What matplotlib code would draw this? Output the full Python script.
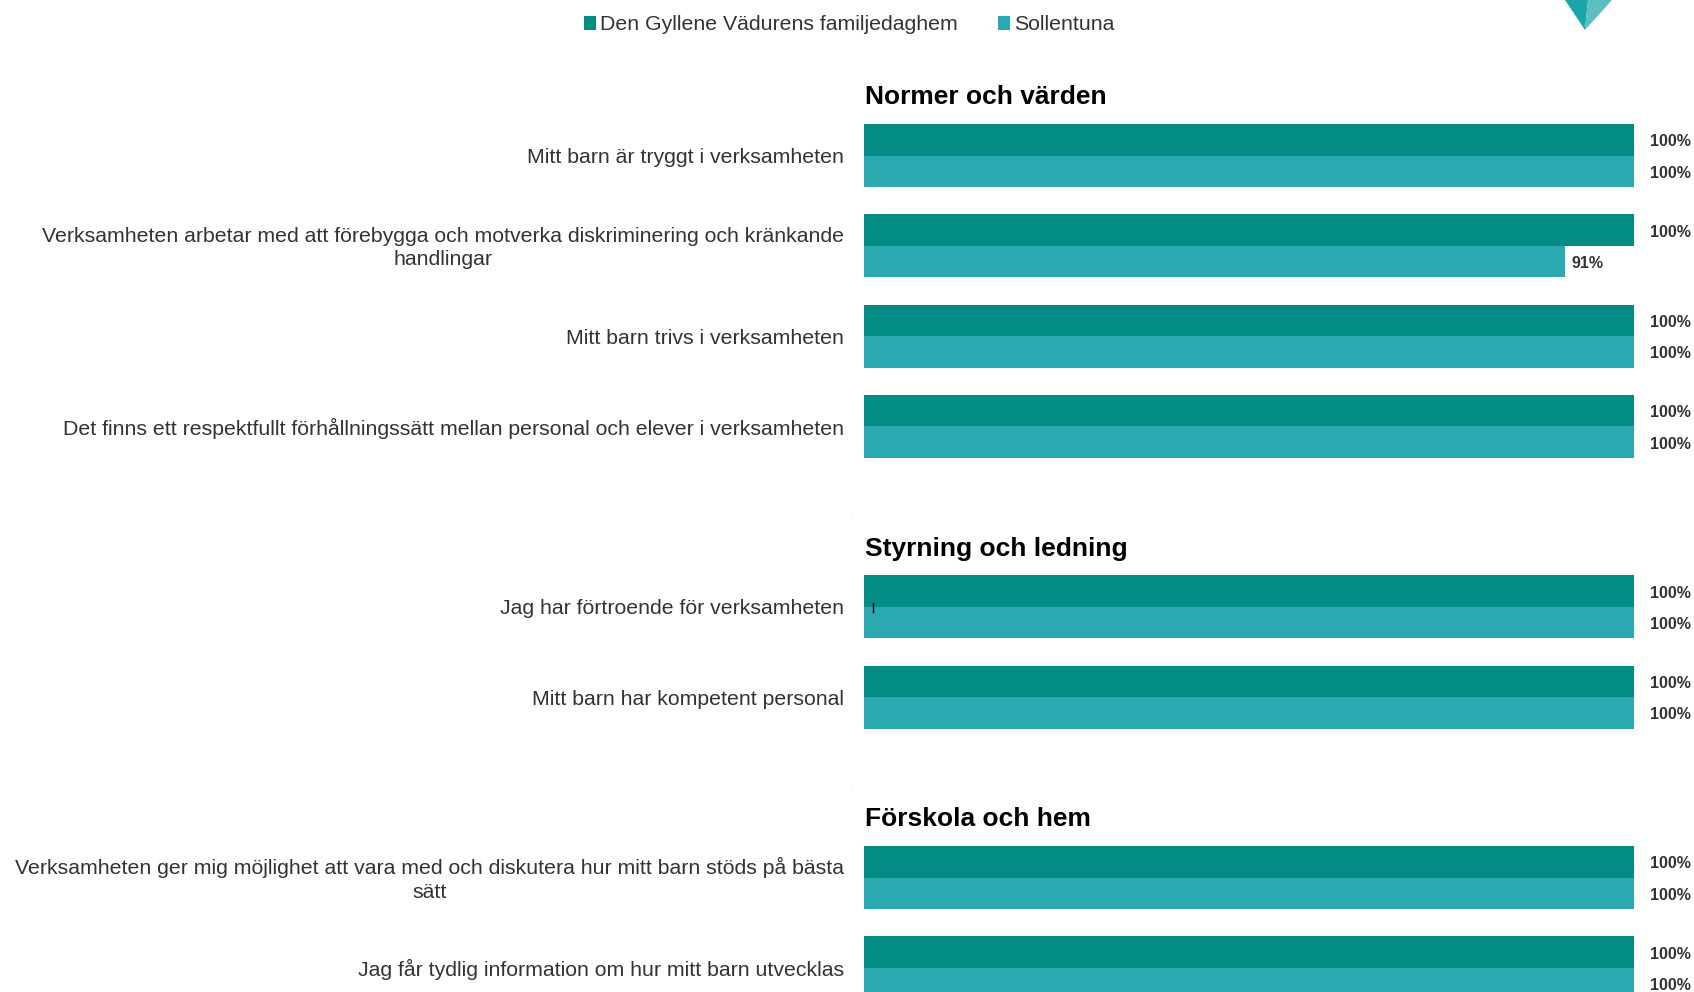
import matplotlib
matplotlib.use("Agg")
import matplotlib.pyplot as plt
from matplotlib.patches import Polygon

plt.rcParams['font.family'] = ['Liberation Sans', 'DejaVu Sans']

# ---- data ----
series_names = ["Den Gyllene Vädurens familjedaghem", "Sollentuna"]
group_titles = ["Normer och värden", "Styrning och ledning", "Förskola och hem"]
group_questions = [
    ["Mitt barn är tryggt i verksamheten",
     "Verksamheten arbetar med att förebygga och motverka diskriminering och kränkande\nhandlingar",
     "Mitt barn trivs i verksamheten",
     "Det finns ett respektfullt förhållningssätt mellan personal och elever i verksamheten"],
    ["Jag har förtroende för verksamheten",
     "Mitt barn har kompetent personal"],
    ["Verksamheten ger mig möjlighet att vara med och diskutera hur mitt barn stöds på bästa\nsätt",
     "Jag får tydlig information om hur mitt barn utvecklas"],
]
values_unit = [[100, 100, 100, 100], [100, 100], [100, 100]]
values_kommun = [[100, 91, 100, 100], [100, 100], [100, 100]]

colors = ["#038C85", "#2AA9B0"]
W, H = 1694, 992

fig = plt.figure(figsize=(W / 100, H / 100), dpi=100)
ax = fig.add_axes([864 / W, 0, 770 / W, 1])
ax.set_xlim(0, 100)
step = 90.25
ax.set_ylim((H - 155.5) / step, -155.5 / step)
ax.axis('off')

bh = 31.5 / step
dy = 2.2 / step  # small text shift downward
slot = 0
handles = None
for g, title in enumerate(group_titles):
    qs = group_questions[g]
    ax.text(0.13, slot - 0.665 + 2.0 / step, title, ha='left', va='center',
            fontsize=19, fontweight='bold', color='black')
    for i, q in enumerate(qs):
        y = slot + i
        b1 = ax.barh(y - bh / 2, values_unit[g][i], height=bh, color=colors[0],
                     label=series_names[0])
        b2 = ax.barh(y + bh / 2, values_kommun[g][i], height=bh, color=colors[1],
                     label=series_names[1])
        if handles is None:
            handles = [b1, b2]
        for yy, v in ((y - bh / 2, values_unit[g][i]), (y + bh / 2, values_kommun[g][i])):
            off = 16 if v >= 100 else 7
            ax.annotate(f"{v}%", xy=(v, yy + dy), xytext=(off, 0), textcoords='offset pixels',
                        ha='left', va='center', fontsize=11.5, fontweight='bold',
                        color='#333333')
        ax.text(-2.6, y + dy, q, ha='right', va='center', multialignment='center',
                fontsize=15.3, color='#333333', linespacing=1.32)
    slot += len(qs) + 1

leg = fig.legend(handles=handles, labels=series_names, loc='center',
                 bbox_to_anchor=(849.5 / W, 1 - 25 / H), bbox_transform=fig.transFigure,
                 ncol=2, frameon=False, fontsize=15.3, handlelength=0.55, handleheight=0.6,
                 handletextpad=0.2, columnspacing=1.9)
for t in leg.get_texts():
    t.set_color('#333333')

# decorative logo fragment (top right) in pixel coords
def px(x, y):
    return (x / W, 1 - y / H)
fig.patches.append(Polygon([px(1565, 0), px(1588, 0), px(1585, 30)], closed=True,
                           transform=fig.transFigure, color="#1AA6A9", lw=0))
fig.patches.append(Polygon([px(1588, 0), px(1612, 0), px(1585, 30)], closed=True,
                           transform=fig.transFigure, color="#5CBEC1", lw=0))
# small artifacts
fig.text(852 / W, 1 - 515 / H, '.', fontsize=3, color='black', ha='center', va='center')
fig.text(852 / W, 1 - 786 / H, '.', fontsize=3, color='black', ha='center', va='center')
fig.add_artist(plt.Line2D([873 / W, 873 / W], [1 - 603 / H, 1 - 612 / H],
                          transform=fig.transFigure, color='black', lw=1))

fig.savefig("out.png", dpi=100)
